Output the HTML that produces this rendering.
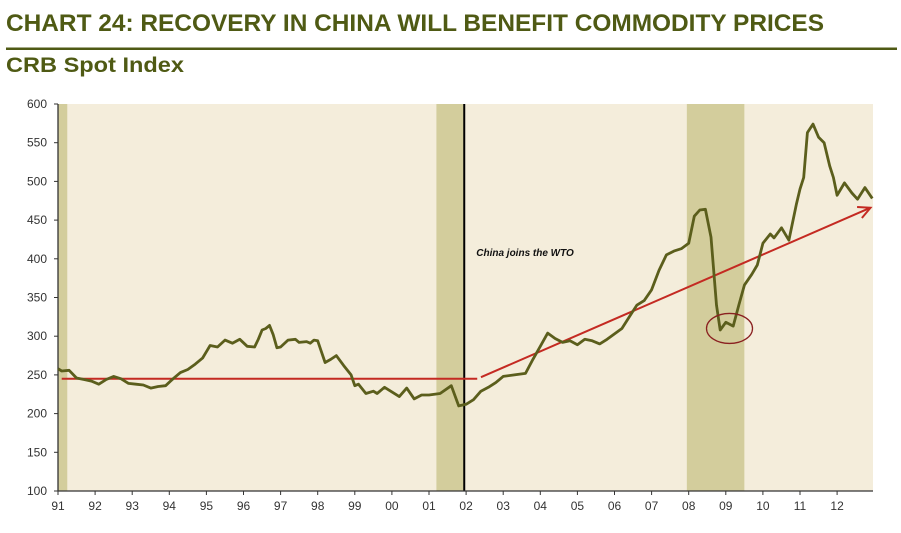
<!DOCTYPE html>
<html><head><meta charset="utf-8"><style>
html,body{margin:0;padding:0;background:#fff;}
svg{display:block;font-family:"Liberation Sans",sans-serif;}
</style></head><body>
<svg id="chart" width="901" height="533" viewBox="0 0 901 533">
<text x="6" y="31" font-size="24" font-weight="bold" fill="#4f5a14" textLength="818" lengthAdjust="spacingAndGlyphs">CHART 24: RECOVERY IN CHINA WILL BENEFIT COMMODITY PRICES</text>
<rect x="6" y="47.5" width="891" height="2.5" fill="#4f5a14"/>
<text x="6" y="72" font-size="21" font-weight="bold" fill="#4f5a14" textLength="178" lengthAdjust="spacingAndGlyphs">CRB Spot Index</text>
<g id="plot"></g>
</svg>
<script>
const years=[1991.0,1991.1,1991.3,1991.5,1991.7,1991.9,1992.1,1992.3,1992.5,1992.7,1992.9,1993.1,1993.3,1993.5,1993.7,1993.9,1994.1,1994.3,1994.5,1994.7,1994.9,1995.0,1995.1,1995.3,1995.5,1995.7,1995.9,1996.1,1996.3,1996.4,1996.5,1996.6,1996.7,1996.8,1996.9,1997.0,1997.2,1997.4,1997.5,1997.7,1997.8,1997.9,1998.0,1998.1,1998.2,1998.35,1998.5,1998.7,1998.9,1999.0,1999.1,1999.3,1999.5,1999.6,1999.8,2000.0,2000.2,2000.4,2000.6,2000.8,2001.0,2001.3,2001.6,2001.8,2002.0,2002.2,2002.4,2002.6,2002.8,2003.0,2003.3,2003.6,2003.8,2004.0,2004.2,2004.4,2004.6,2004.8,2005.0,2005.2,2005.4,2005.6,2005.8,2006.0,2006.2,2006.4,2006.6,2006.8,2007.0,2007.2,2007.4,2007.6,2007.8,2008.0,2008.15,2008.3,2008.45,2008.6,2008.75,2008.85,2009.0,2009.2,2009.35,2009.5,2009.7,2009.85,2010.0,2010.2,2010.3,2010.5,2010.7,2010.9,2011.0,2011.1,2011.2,2011.35,2011.5,2011.65,2011.8,2011.9,2012.0,2012.2,2012.4,2012.55,2012.75,2012.95];
const crbValues=[258,255,256,246,244,242,238,244,248,245,239,238,237,233,235,236,245,253,257,264,272,280,288,286,295,291,296,287,286,296,308,310,314,302,285,286,295,296,292,293,291,295,294,280,266,270,275,262,250,236,238,226,229,226,234,228,222,233,219,224,224,226,236,210,212,218,229,234,240,248,250,252,270,287,304,297,292,294,289,296,294,290,296,303,310,325,340,346,360,385,405,410,413,420,455,463,464,428,340,308,318,313,340,366,380,392,420,432,427,440,424,470,490,505,563,574,557,550,520,505,482,498,485,477,492,478];
const yTicks=[100,150,200,250,300,350,400,450,500,550,600];
const xTickYears=[1991,1992,1993,1994,1995,1996,1997,1998,1999,2000,2001,2002,2003,2004,2005,2006,2007,2008,2009,2010,2011,2012];
const xTickLabels=["91","92","93","94","95","96","97","98","99","00","01","02","03","04","05","06","07","08","09","10","11","12"];
const shadeStarts=[1991.0,2001.2,2007.95];
const shadeEnds=[1991.25,2001.95,2009.5];
const wtoYear=[2001.95];
const flatTrendYears=[1991.1,2002.3];
const flatTrendValues=[245,245];
const upTrendYears=[2002.4,2012.9];
const upTrendValues=[247,466];
const circleYear=[2009.1];
const circleValue=[310];

const L=58,R=873,T=104,B=491;
const x=y=>L+(y-1991)*37.1;
const yv=v=>B-(v-100)*(B-T)/500;
const ns="http://www.w3.org/2000/svg";
const g=document.getElementById('plot');
function mk(tag,attrs){const e=document.createElementNS(ns,tag);for(const k in attrs)e.setAttribute(k,attrs[k]);g.appendChild(e);return e;}

let bg=mk('rect',{x:L,y:T,width:R-L,height:B-T,fill:'#f4eddb'});


for(let i=0;i<shadeStarts.length;i++){
  const r=mk('rect',{x:x(shadeStarts[i]),y:T,width:x(shadeEnds[i])-x(shadeStarts[i]),height:B-T,fill:'#d3cd9c'});
  
  
}
const vl=mk('line',{x1:x(wtoYear[0]),x2:x(wtoYear[0]),y1:T,y2:B,stroke:'#000','stroke-width':2});


const wt=mk('text',{x:x(wtoYear[0])+12,y:256,'font-size':10,'font-weight':'bold','font-style':'italic',fill:'#111'});
wt.textContent='China joins the WTO';



const ax=mk('path',{d:`M${L},${T}V${B}H${R}`,stroke:'#333','stroke-width':1.3,fill:'none'});


yTicks.forEach(t=>{
  const tk=mk('line',{x1:L-4,x2:L,y1:yv(t),y2:yv(t),stroke:'#333'});
  
  
  const tx=mk('text',{x:L-11,y:yv(t)+4,'font-size':12,'text-anchor':'end',fill:'#333'});
  tx.textContent=t;
  
  
});
xTickYears.forEach((yr,i)=>{
  const tk=mk('line',{x1:x(yr),x2:x(yr),y1:B,y2:B+4,stroke:'#333'});
  
  
  const tx=mk('text',{x:x(yr),y:B+19,'font-size':12,'text-anchor':'middle',fill:'#333'});
  tx.textContent=xTickLabels[i];
  
  
});

const ft=mk('line',{x1:x(flatTrendYears[0]),x2:x(flatTrendYears[1]),y1:yv(flatTrendValues[0]),y2:yv(flatTrendValues[1]),stroke:'#c42a22','stroke-width':2});


const ux1=x(upTrendYears[0]),uy1=yv(upTrendValues[0]),ux2=x(upTrendYears[1]),uy2=yv(upTrendValues[1]);
const ut=mk('line',{x1:ux1,y1:uy1,x2:ux2,y2:uy2,stroke:'#c42a22','stroke-width':2});


const ang=Math.atan2(uy2-uy1,ux2-ux1);
const ah=[[-12,-6],[-12,6]].map(([a,b])=>[ux2+a*Math.cos(ang)-b*Math.sin(ang),uy2+a*Math.sin(ang)+b*Math.cos(ang)]);
const hd=mk('path',{d:`M${ah[0][0]},${ah[0][1]}L${ux2},${uy2}L${ah[1][0]},${ah[1][1]}`,stroke:'#c42a22','stroke-width':2,fill:'none'});



let d='';
years.forEach((yr,i)=>{d+=(i?'L':'M')+x(yr).toFixed(1)+','+yv(crbValues[i]).toFixed(1);});
const ln=mk('path',{d:d,stroke:'#5b5e1c','stroke-width':2.8,fill:'none','stroke-linejoin':'round'});



const ci=mk('ellipse',{cx:x(circleYear[0]),cy:yv(circleValue[0]),rx:23,ry:15,stroke:'#8a2020','stroke-width':1.3,fill:'none'});


</script>
</body></html>
